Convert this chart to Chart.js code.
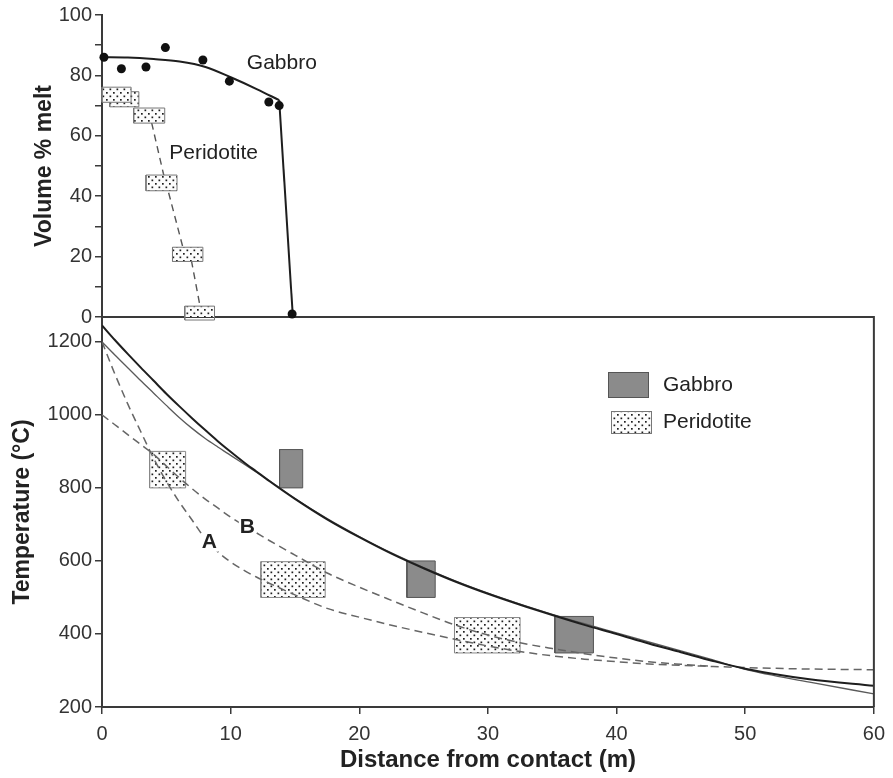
<!DOCTYPE html>
<html>
<head>
<meta charset="utf-8">
<script src="https://cdn.jsdelivr.net/npm/chart.js@4.4.1/dist/chart.umd.min.js"></script>
<style>
html, body { margin: 0; padding: 0; background: #fff; }
#wrap { position: relative; width: 893px; height: 778px; }
#wrap canvas { position: absolute; left: 0; top: 0; }
</style>
</head>
<body>
<div id="wrap">
  <canvas id="tempChart" width="893" height="778"></canvas>
  <canvas id="meltChart" width="893" height="778"></canvas>
</div>
<script>
// ---- top panel: volume % melt ----
const gabbroMeltX = [0.15, 1.5, 3.4, 4.9, 7.8, 9.85, 12.9, 13.7, 14.7];
const gabbroMeltY = [86, 82.2, 82.8, 89.2, 85.1, 78.1, 71.2, 70.0, 1.0];
const gabbroFitX = [0, 2, 4, 6, 8, 10, 12, 13.7];
const gabbroFitY = [86, 85.9, 85.4, 84.6, 82.8, 79.3, 75.4, 71.8];
const gabbroDropX = [13.7, 14.75];
const gabbroDropY = [71.8, 0.5];
// peridotite boxes: [xFrom, xTo, meltFrom, meltTo]
const peridMeltBoxes = [
  [0, 2.25, 71.1, 76.1],
  [0.6, 2.85, 69.6, 74.6],
  [2.45, 4.85, 64.2, 69.2],
  [3.4, 5.8, 41.8, 47.0],
  [5.45, 7.8, 18.4, 23.1],
  [6.4, 8.7, -1.0, 3.6]
];
const peridFitX = [3.84, 4.74, 5.13, 6.24, 6.93, 7.58];
const peridFitY = [64.3, 47.6, 41.5, 23.3, 18.3, 3.6];
const meltTicks = [0, 20, 40, 60, 80, 100];

// ---- bottom panel: temperature ----
const distance = [0, 1, 2, 3, 4, 5, 6, 7, 8, 9, 10, 11, 12, 13, 15, 17.5, 20, 22.5, 25, 27.5, 30, 32.5, 35, 37.5, 40, 42.5, 45, 47.5, 50, 55, 60];
const tempSolid1 = [1245, 1205, 1167, 1130, 1094, 1058, 1024, 991, 959, 928, 899, 871, 845, 819, 770, 714, 665, 620, 580, 543, 510, 480, 452, 425, 400, 374, 350, 326, 305, 276, 258];
const tempSolid2 = [1200, 1164, 1129, 1094, 1060, 1026, 993, 963, 936, 912, 889, 866, 843, 820, 771, 716, 667, 622, 582, 545, 512, 482, 454, 428, 403, 378, 354, 329, 303, 268, 236];
const tempCurveA = [1200, 1112, 1030, 955, 882, 818, 762, 712, 662, 625, 597, 575, 556, 539, 507, 470, 446, 424, 404, 385, 367, 352, 340, 331, 324, 318, 314, 311, 308, 304, 302];
const tempCurveB = [1000, 973, 946, 919, 892, 860, 828, 798, 770, 745, 720, 698, 677, 656, 616, 567, 528, 492, 457, 424, 397, 376, 360, 346, 334, 324, 317, 311, null, null, null];
// boxes: [xFrom, xTo, tempFrom, tempTo]
const gabbroTempBoxes = [
  [13.8, 15.6, 800, 905],
  [23.7, 25.9, 500, 600],
  [35.2, 38.2, 348, 448]
];
const peridTempBoxes = [
  [3.7, 6.5, 800, 900],
  [12.35, 17.35, 500, 598],
  [27.4, 32.5, 348, 445]
];
const distanceTicks = [0, 10, 20, 30, 40, 50, 60];
const tempTicks = [200, 400, 600, 800, 1000, 1200];

Chart.defaults.font.family = '"Liberation Sans", Arial, sans-serif';
Chart.defaults.color = '#333';

const AXIS = '#3a3a3a';

function stipple() {
  const tile = document.createElement('canvas');
  tile.width = 7; tile.height = 7;
  const g = tile.getContext('2d');
  g.fillStyle = '#fcfcfc';
  g.fillRect(0, 0, 7, 7);
  g.fillStyle = '#1e1e1e';
  g.fillRect(1, 1, 1.7, 1.7);
  g.fillRect(4.5, 4.5, 1.7, 1.7);
  return g.createPattern(tile, 'repeat');
}
const dots = stipple();

function pts(xs, ys) {
  return xs.map((x, i) => ({ x: x, y: ys[i] }));
}
function boxPts(b) {
  return [{x: b[0], y: b[2]}, {x: b[1], y: b[2]}, {x: b[1], y: b[3]}, {x: b[0], y: b[3]}, {x: b[0], y: b[2]}];
}
function boxSet(b, fill, border, order) {
  return {
    data: boxPts(b), showLine: true, fill: 'shape', tension: 0,
    backgroundColor: fill, borderColor: border, borderWidth: 1,
    pointRadius: 0, order: order, clip: false
  };
}

// free text drawn in data coordinates
const textLabels = {
  id: 'textLabels',
  afterDatasetsDraw(chart, args, opts) {
    const ctx = chart.ctx;
    const sx = chart.scales.x, sy = chart.scales.y;
    ctx.save();
    opts.items.forEach(it => {
      ctx.font = it.font;
      ctx.textBaseline = 'middle';
      ctx.textAlign = it.align || 'left';
      const px = sx.getPixelForValue(it.x), py = sy.getPixelForValue(it.y);
      if (it.mask) {
        const w = ctx.measureText(it.text).width;
        ctx.fillStyle = '#fff';
        ctx.fillRect(px - w / 2 - 1, py - 9, w + 2, 18);
      }
      ctx.fillStyle = '#222';
      ctx.fillText(it.text, px, py);
    });
    ctx.restore();
  }
};

// top and right edges of the temperature frame, plus the legend
const frameLegend = {
  id: 'frameLegend',
  afterDraw(chart) {
    const ctx = chart.ctx, a = chart.chartArea;
    ctx.save();
    ctx.strokeStyle = AXIS;
    ctx.lineWidth = 2;
    ctx.beginPath();
    ctx.moveTo(a.left, a.top);
    ctx.lineTo(a.right, a.top);
    ctx.lineTo(a.right, a.bottom);
    ctx.stroke();

    const lx = a.left + 506;
    ctx.lineWidth = 1;
    ctx.fillStyle = '#8b8b8b';
    ctx.fillRect(lx, a.top + 55, 40, 25);
    ctx.strokeStyle = '#555';
    ctx.strokeRect(lx + 0.5, a.top + 55.5, 40, 25);
    ctx.fillStyle = dots;
    ctx.fillRect(lx + 3, a.top + 94, 40, 22);
    ctx.strokeStyle = '#777';
    ctx.strokeRect(lx + 3.5, a.top + 94.5, 40, 22);

    ctx.fillStyle = '#222';
    ctx.font = '21px "Liberation Sans", Arial, sans-serif';
    ctx.textBaseline = 'middle';
    ctx.textAlign = 'left';
    ctx.fillText('Gabbro', a.left + 561, a.top + 68);
    ctx.fillText('Peridotite', a.left + 561, a.top + 105);
    ctx.restore();
  }
};

// ---------- temperature chart (bottom) ----------
const tempSets = [
  { data: pts(distance, tempSolid1), showLine: true, pointRadius: 0, borderColor: '#1e1e1e', borderWidth: 2, cubicInterpolationMode: 'monotone', order: 1 },
  { data: pts(distance, tempSolid2), showLine: true, pointRadius: 0, borderColor: '#5a5a5a', borderWidth: 1.3, cubicInterpolationMode: 'monotone', order: 1 },
  { data: pts(distance, tempCurveA), showLine: true, pointRadius: 0, borderColor: '#666', borderWidth: 1.5, borderDash: [8, 5], cubicInterpolationMode: 'monotone', order: 2 },
  { data: pts(distance, tempCurveB), showLine: true, pointRadius: 0, borderColor: '#666', borderWidth: 1.5, borderDash: [8, 5], cubicInterpolationMode: 'monotone', order: 2, spanGaps: false }
];
gabbroTempBoxes.forEach(b => tempSets.push(boxSet(b, '#8b8b8b', '#555', 5)));
peridTempBoxes.forEach(b => tempSets.push(boxSet(b, dots, '#888', 5)));

new Chart(document.getElementById('tempChart'), {
  type: 'scatter',
  data: { datasets: tempSets },
  options: {
    responsive: false,
    animation: false,
    events: [],
    layout: { padding: { top: 317, right: 15, bottom: 0, left: 0 } },
    plugins: {
      legend: { display: false },
      tooltip: { enabled: false },
      textLabels: {
        items: [
          { text: 'A', x: 8.35, y: 650, font: 'bold 21px "Liberation Sans", Arial, sans-serif', align: 'center', mask: true },
          { text: 'B', x: 11.3, y: 693, font: 'bold 21px "Liberation Sans", Arial, sans-serif', align: 'center', mask: true }
        ]
      }
    },
    scales: {
      x: {
        type: 'linear', min: 0, max: 60,
        afterBuildTicks: s => { s.ticks = distanceTicks.map(v => ({ value: v })); },
        afterFit: s => { s.height = 71; },
        ticks: { font: { size: 20 }, color: '#333', padding: 8, callback: v => String(v) },
        grid: { drawOnChartArea: false, tickLength: 7, color: AXIS, lineWidth: 1.5 },
        border: { color: AXIS, width: 2 },
        title: { display: true, text: 'Distance from contact (m)', color: '#222', font: { size: 24, weight: 'bold' }, padding: { top: 0, bottom: 3 } }
      },
      y: {
        min: 200, max: 1268,
        afterBuildTicks: s => { s.ticks = tempTicks.map(v => ({ value: v })); },
        afterFit: s => { s.width = 102; },
        ticks: { font: { size: 20 }, color: '#333', padding: 3, callback: v => String(v) },
        grid: { drawOnChartArea: false, tickLength: 7, color: AXIS, lineWidth: 1.5 },
        border: { color: AXIS, width: 2 },
        title: { display: true, text: 'Temperature (°C)', color: '#222', font: { size: 23, weight: 'bold' }, padding: { top: 9, bottom: 0 } }
      }
    }
  },
  plugins: [textLabels, frameLegend]
});

// ---------- melt chart (top) ----------
const meltSets = [
  { data: pts(gabbroMeltX, gabbroMeltY), pointRadius: 4.5, pointBackgroundColor: '#111', pointBorderWidth: 0, order: 0, clip: false },
  { data: pts(gabbroFitX, gabbroFitY), showLine: true, pointRadius: 0, borderColor: '#1e1e1e', borderWidth: 2, cubicInterpolationMode: 'monotone', order: 1, clip: false },
  { data: pts(gabbroDropX, gabbroDropY), showLine: true, pointRadius: 0, borderColor: '#1e1e1e', borderWidth: 2, tension: 0, order: 1, clip: false },
  { data: pts(peridFitX, peridFitY), showLine: true, pointRadius: 0, borderColor: '#555', borderWidth: 1.4, borderDash: [7, 5], tension: 0, order: 20, clip: false }
];
peridMeltBoxes.forEach((b, i) => meltSets.push(boxSet(b, dots, '#777', 3 + i)));

new Chart(document.getElementById('meltChart'), {
  type: 'scatter',
  data: { datasets: meltSets },
  options: {
    responsive: false,
    animation: false,
    events: [],
    layout: { padding: { top: 15, right: 15, bottom: 461, left: 0 } },
    plugins: {
      legend: { display: false },
      tooltip: { enabled: false },
      textLabels: {
        items: [
          { text: 'Gabbro', x: 11.2, y: 84, font: '21px "Liberation Sans", Arial, sans-serif' },
          { text: 'Peridotite', x: 5.2, y: 54.3, font: '21px "Liberation Sans", Arial, sans-serif' }
        ]
      }
    },
    scales: {
      x: { type: 'linear', min: 0, max: 60, display: false },
      y: {
        min: 0, max: 100,
        ticks: {
          stepSize: 10, font: { size: 20 }, color: '#333', padding: 3,
          callback: v => (meltTicks.includes(v) ? String(v) : '')
        },
        afterFit: s => { s.width = 102; },
        grid: { drawOnChartArea: false, tickLength: 7, color: AXIS, lineWidth: 1.5 },
        border: { color: AXIS, width: 2 },
        title: { display: true, text: 'Volume % melt', color: '#222', font: { size: 23, weight: 'bold' }, padding: { top: 31, bottom: 0 } }
      }
    }
  },
  plugins: [textLabels]
});
</script>
</body>
</html>
